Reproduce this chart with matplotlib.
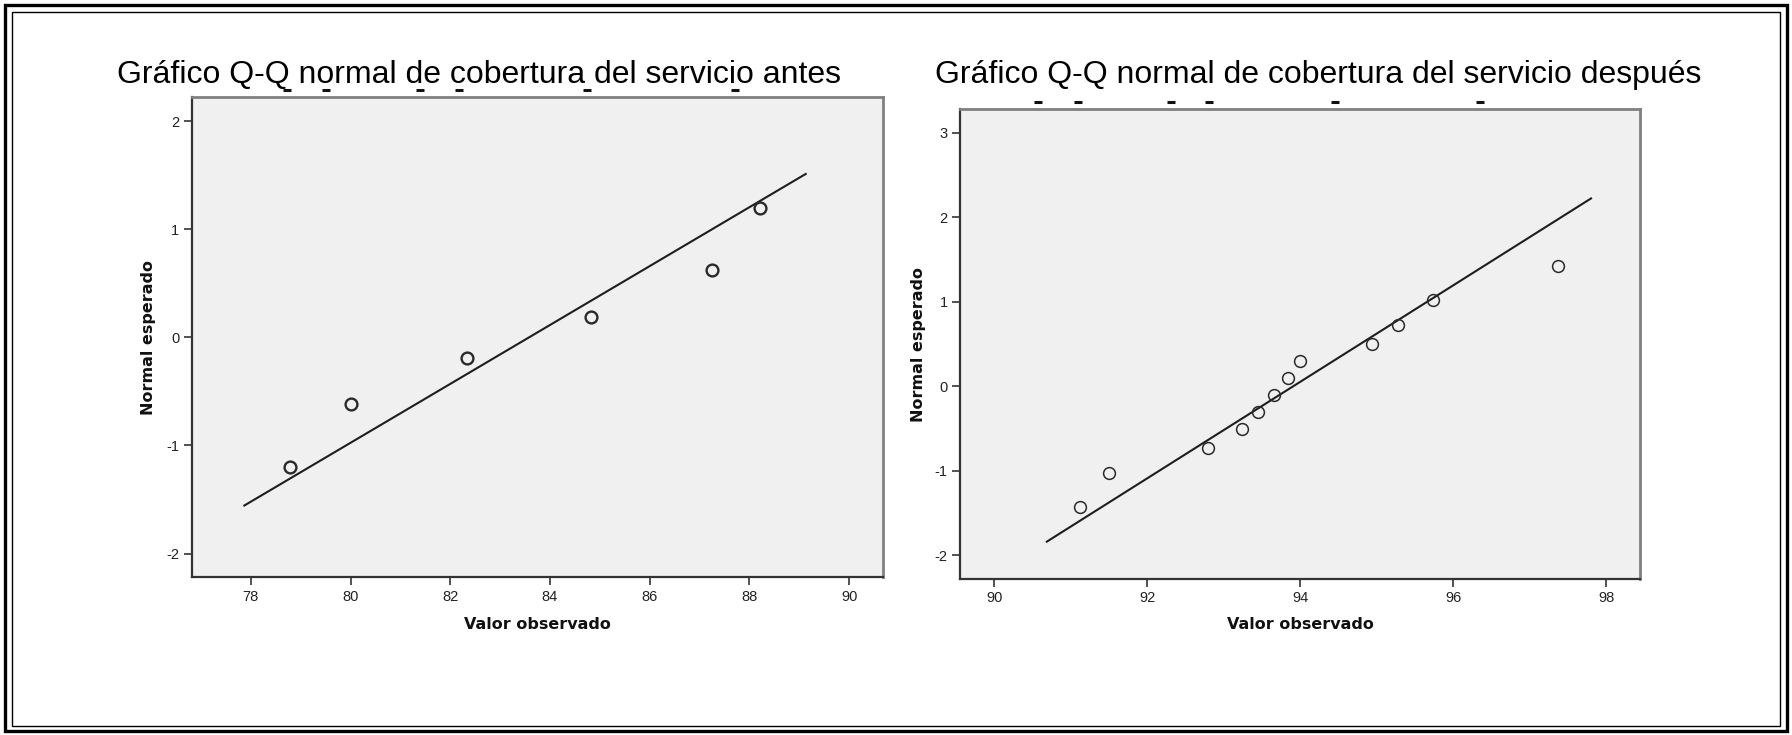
import matplotlib
matplotlib.use("Agg")
import matplotlib.pyplot as plt
from matplotlib.lines import Line2D
from matplotlib.patches import Rectangle

plt.rcParams["axes.unicode_minus"] = False

# Observed coverage values and their expected normal scores
antes_obs = [78.79, 80.00, 82.34, 84.83, 87.25, 88.21]
antes_z = [-1.20, -0.62, -0.19, 0.19, 0.62, 1.20]
antes_line_x = [77.87, 89.13]
antes_line_y = [-1.556, 1.511]

despues_obs = [91.12, 91.50, 92.79, 93.24, 93.45, 93.65,
               93.84, 94.00, 94.93, 95.27, 95.74, 97.37]
despues_z = [-1.43, -1.02, -0.73, -0.50, -0.30, -0.10,
             0.10, 0.30, 0.50, 0.73, 1.02, 1.43]
despues_line_x = [90.685, 97.80]
despues_line_y = [-1.838, 2.225]

antes_xticks = [78, 80, 82, 84, 86, 88, 90]
antes_yticks = [-2, -1, 0, 1, 2]
despues_xticks = [90, 92, 94, 96, 98]
despues_yticks = [-2, -1, 0, 1, 2, 3]

title_antes = "Gráfico Q-Q normal de cobertura del servicio antes"
title_despues = "Gráfico Q-Q normal de cobertura del servicio después"
xlabel = "Valor observado"
ylabel = "Normal esperado"

W, H = 1792, 735
fig = plt.figure(figsize=(W / 100, H / 100), dpi=100)
fig.patch.set_facecolor("white")

TICK_FONT = ["Liberation Sans Narrow", "Liberation Sans", "DejaVu Sans"]
LABEL_FONT = ["DejaVu Sans Condensed", "DejaVu Sans"]
TITLE_FONT = ["Liberation Sans", "DejaVu Sans"]


def px_box(x0, y0, x1, y1):
    """Convert a pixel box (top-left origin) to figure fractions."""
    return [x0 / W, 1 - y1 / H, (x1 - x0) / W, (y1 - y0) / H]


def qq_panel(box, obs, z, lx, ly, xlim, ylim, xticks, yticks, mew, ylab_x):
    x0, y0, x1, y1 = box
    ax = fig.add_axes(px_box(*box))
    ax.set_facecolor("#f0f0f0")
    ax.plot(lx, ly, color="#1e1e1e", lw=1.5, zorder=2)
    ax.plot(obs, z, linestyle="none", marker="o", ms=8.5,
            mfc="none", mec="#2a2a2a", mew=mew, zorder=3)
    ax.set_xlim(*xlim)
    ax.set_ylim(*ylim)
    ax.set_xticks(xticks)
    ax.set_yticks(yticks)
    ax.tick_params(direction="out", length=6, width=1.2, color="#333333",
                   labelsize=10.5, labelcolor="#222222", pad=3)
    for lab in ax.get_xticklabels() + ax.get_yticklabels():
        lab.set_family(TICK_FONT)
    for side in ("left", "bottom"):
        ax.spines[side].set_color("#333333")
        ax.spines[side].set_linewidth(1.6)
    for side in ("top", "right"):
        ax.spines[side].set_color("#808080")
        ax.spines[side].set_linewidth(2.0)
    ax.set_xlabel(xlabel, family=LABEL_FONT, weight="bold", fontsize=11.5,
                  color="#111111")
    ax.set_ylabel(ylabel, family=LABEL_FONT, weight="bold", fontsize=11.5,
                  color="#111111")
    # axis titles at fixed pixel offsets from the plot area
    ax.yaxis.set_label_coords((ylab_x - x0) / (x1 - x0), 0.5)
    ax.xaxis.set_label_coords(0.5, (y1 - 617) / (y1 - y0))
    return ax


ax1 = qq_panel((192, 97.3, 883, 577.3), antes_obs, antes_z,
               antes_line_x, antes_line_y, (76.82, 90.68), (-2.22, 2.22),
               antes_xticks, antes_yticks, mew=1.7, ylab_x=156)
ax2 = qq_panel((960, 109.3, 1640, 579), despues_obs, despues_z,
               despues_line_x, despues_line_y, (89.55, 98.44), (-2.28, 3.28),
               despues_xticks, despues_yticks, mew=1.1, ylab_x=926)

# Titles
fig.text(117 / W, 1 - 83 / H, title_antes, family=TITLE_FONT, fontsize=23,
         ha="left", va="baseline", color="#000000")
fig.text(935 / W, 1 - 83 / H, title_despues, family=TITLE_FONT, fontsize=23,
         ha="left", va="baseline", color="#000000")

# Small dashes under the titles
def dash(xc, yc):
    fig.add_artist(Line2D([(xc - 4) / W, (xc + 4) / W], [1 - yc / H, 1 - yc / H],
                          transform=fig.transFigure, color="#111111", lw=2.2,
                          solid_capstyle="butt"))

for xc in (287, 326, 420, 459, 587, 735):
    dash(xc, 90)
for xc in (1038, 1078, 1171, 1209, 1335, 1480):
    dash(xc, 101.5)

# Double frame around the whole figure
fig.add_artist(Rectangle((5 / W, 1 - 731 / H), (1787 - 5) / W, (731 - 5) / H,
                         transform=fig.transFigure, fill=False,
                         edgecolor="#000000", lw=2.4))
fig.add_artist(Rectangle((12 / W, 1 - 726 / H), (1780 - 12) / W, (726 - 12) / H,
                         transform=fig.transFigure, fill=False,
                         edgecolor="#000000", lw=1.0))

fig.savefig("out.png", dpi=100, facecolor="white")
